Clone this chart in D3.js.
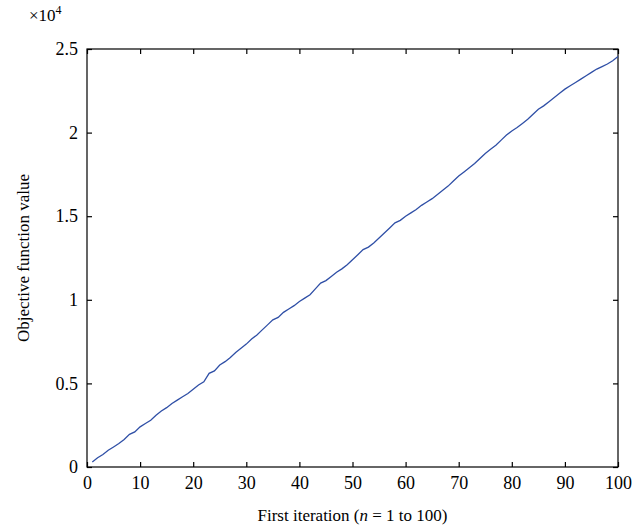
<!DOCTYPE html>
<html>
<head>
<meta charset="utf-8">
<script src="https://cdn.jsdelivr.net/npm/d3@7"></script>
<style>
  body { margin: 0; background: #fff; }
  svg { font-family: "Liberation Serif", "DejaVu Serif", serif; }
  .tick text { font-size: 18px; fill: #000; }
</style>
</head>
<body>
<svg width="634" height="529"></svg>
<script>
// iteration numbers and objective values (units of 1)
const iterations = d3.range(1, 101);
const objective = [
  300, 550, 750, 1000, 1200, 1400, 1650, 1950, 2100, 2400,
  2600, 2800, 3100, 3350, 3550, 3800, 4000, 4200, 4400, 4650,
  4900, 5100, 5600, 5750, 6100, 6300, 6550, 6850, 7100, 7350,
  7650, 7900, 8200, 8500, 8800, 8950, 9250, 9450, 9650, 9900,
  10100, 10300, 10650, 11000, 11150, 11400, 11650, 11850, 12100, 12400,
  12700, 13000, 13150, 13400, 13700, 14000, 14300, 14600, 14750, 15000,
  15200, 15400, 15650, 15850, 16050, 16300, 16550, 16800, 17100, 17400,
  17650, 17900, 18150, 18450, 18750, 19000, 19250, 19550, 19850, 20100,
  20300, 20550, 20800, 21100, 21400, 21600, 21850, 22100, 22350, 22600,
  22800, 23000, 23200, 23400, 23600, 23800, 23950, 24100, 24300, 24550
];
const xTicks = [0, 10, 20, 30, 40, 50, 60, 70, 80, 90, 100];
const yTicks = [0, 5000, 10000, 15000, 20000, 25000];

const svg = d3.select('svg');
const pLeft = 87, pRight = 618, pTop = 49, pBottom = 467;

const x = d3.scaleLinear().domain([0, 100]).range([pLeft, pRight]);
const y = d3.scaleLinear().domain([0, 25000]).range([pBottom, pTop]);

// frame
svg.append('rect')
  .attr('x', pLeft).attr('y', pTop)
  .attr('width', pRight - pLeft).attr('height', pBottom - pTop)
  .attr('fill', 'none').attr('stroke', '#000').attr('stroke-width', 1.2);

const tickLen = 5;
const yFmt = d => d / 10000;

// bottom axis (labels + inward ticks)
const xb = svg.append('g')
  .attr('transform', `translate(0,${pBottom})`)
  .call(d3.axisBottom(x).tickValues(xTicks).tickSize(-tickLen).tickPadding(9));
// top axis ticks only
const xt = svg.append('g')
  .attr('transform', `translate(0,${pTop})`)
  .call(d3.axisTop(x).tickValues(xTicks).tickSize(-tickLen).tickFormat(''));
// left axis
const yl = svg.append('g')
  .attr('transform', `translate(${pLeft},0)`)
  .call(d3.axisLeft(y).tickValues(yTicks).tickSize(-tickLen).tickPadding(9).tickFormat(yFmt));
// right axis ticks only
const yr = svg.append('g')
  .attr('transform', `translate(${pRight},0)`)
  .call(d3.axisRight(y).tickValues(yTicks).tickSize(-tickLen).tickFormat(''));

[xb, xt, yl, yr].forEach(g => {
  g.attr('font-family', null).attr('font-size', null);
  g.select('.domain').remove();
  g.selectAll('.tick line').attr('stroke', '#000').attr('stroke-width', 1.2);
});

// the series
const line = d3.line()
  .x((d, i) => x(iterations[i]))
  .y(d => y(d));

svg.append('path')
  .datum(objective)
  .attr('fill', 'none')
  .attr('stroke', '#2f4fa6')
  .attr('stroke-width', 1.3)
  .attr('d', line);

// exponent label
const ex = svg.append('text')
  .attr('x', 29).attr('y', 21)
  .attr('font-size', 17);
ex.append('tspan').text('×10');
ex.append('tspan').attr('dy', -7).attr('font-size', 12).text('4');

// axis titles
const xl = svg.append('text')
  .attr('x', (pLeft + pRight) / 2).attr('y', 521)
  .attr('text-anchor', 'middle')
  .attr('font-size', 17);
xl.append('tspan').text('First iteration (');
xl.append('tspan').attr('font-style', 'italic').text('n');
xl.append('tspan').text(' = 1 to 100)');

svg.append('text')
  .attr('transform', `translate(29,${(pTop + pBottom) / 2}) rotate(-90)`)
  .attr('text-anchor', 'middle')
  .attr('font-size', 17)
  .text('Objective function value');
</script>
</body>
</html>
